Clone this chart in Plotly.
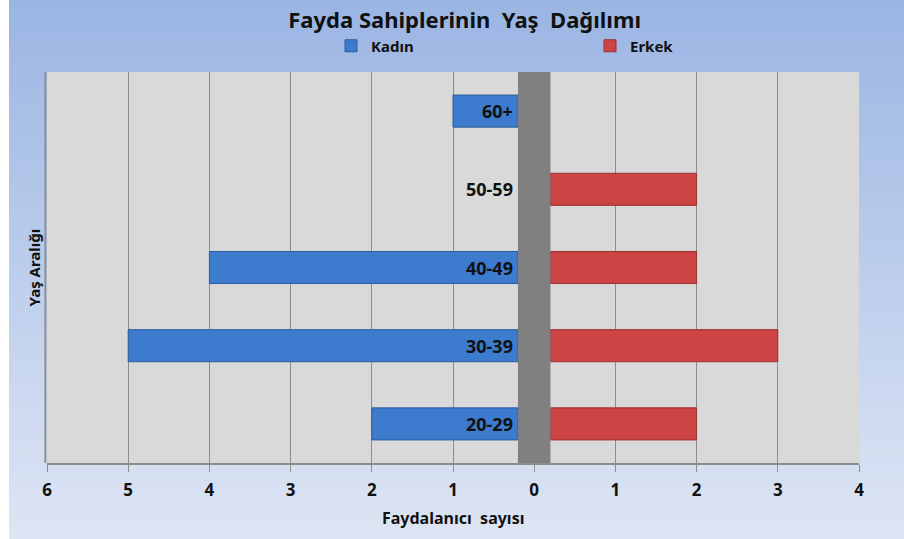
import plotly.graph_objects as go

# data
age_groups = ['20-29', '30-39', '40-49', '50-59', '60+']
kadin = [2, 5, 4, 0, 1]
erkek = [2, 3, 2, 2, 0]
tick_vals = [-6, -5, -4, -3, -2, -1, 0, 1, 2, 3, 4]
tick_text = [str(abs(v)) for v in tick_vals]

title = 'Fayda Sahiplerinin  Yaş  Dağılımı'
x_title = 'Faydalanıcı  sayısı'
y_title = 'Yaş Aralığı'

GAP = 0.2  # half width of the grey spine in the middle
FONT = 'Noto Sans'
INK = '#111111'

W, H = 904, 539
ML, MR, MT, MB = 47, 45, 72, 76
pw, ph = W - ML - MR, H - MT - MB


def px_x(p):
    return (p - ML) / pw


def px_y(p):
    return (H - MB - p) / ph


fig = go.Figure()

fig.add_trace(go.Bar(
    y=age_groups, x=[-(v - GAP) if v > 0 else None for v in kadin], base=-GAP,
    orientation='h', name='Kadın', width=0.41,
    marker=dict(color='#3c7bcd', line=dict(color='#2c5d9c', width=1)),
    hoverinfo='skip',
))
fig.add_trace(go.Bar(
    y=age_groups, x=[(v - GAP) if v > 0 else None for v in erkek], base=GAP,
    orientation='h', name='Erkek', width=0.41,
    marker=dict(color='#cc4444', line=dict(color='#9c3030', width=1)),
    hoverinfo='skip',
))

# background gradient, light blue -> pale blue
shapes = []
top, bot = (155, 181, 227), (221, 229, 244)
n = 60
y_top, y_bot = px_y(0), px_y(H)
for i in range(n):
    t = i / (n - 1)
    c = tuple(round(a + (b - a) * t) for a, b in zip(top, bot))
    y0 = y_top + (y_bot - y_top) * i / n
    y1 = y_top + (y_bot - y_top) * (i + 1) / n
    shapes.append(dict(type='rect', xref='paper', yref='paper',
                       x0=px_x(9), x1=px_x(W + 2), y0=y1 - 0.002, y1=y0 + 0.002,
                       fillcolor='rgb(%d,%d,%d)' % c, line=dict(width=0), layer='below'))
# plot area
shapes.append(dict(type='rect', xref='paper', yref='paper', x0=0, x1=1, y0=0, y1=1,
                   fillcolor='#d9d9d9', line=dict(width=0), layer='below'))
shapes.append(dict(type='line', xref='paper', yref='paper', x0=-0.002, x1=-0.002, y0=0, y1=1,
                   line=dict(color='#8f8f8f', width=2), layer='below'))
# grey spine in the middle
shapes.append(dict(type='rect', xref='x', yref='paper', x0=-GAP, x1=GAP, y0=0, y1=1,
                   fillcolor='#808080', line=dict(width=0), layer='above'))

annotations = []
for g in age_groups:
    annotations.append(dict(x=-GAP, y=g, xref='x', yref='y', text='<b>%s</b>' % g,
                            xanchor='right', yanchor='middle', xshift=-3, showarrow=False,
                            font=dict(family=FONT, size=18, color=INK)))
annotations.append(dict(x=0.5, y=px_y(518), xref='paper', yref='paper', text='<b>%s</b>' % x_title,
                        xanchor='center', yanchor='middle', showarrow=False,
                        font=dict(family=FONT, size=16, color=INK)))
annotations.append(dict(x=px_x(33), y=0.5, xref='paper', yref='paper', text='<b>%s</b>' % y_title,
                        xanchor='center', yanchor='middle', textangle=-90, showarrow=False,
                        font=dict(family=FONT, size=15, color=INK)))

fig.update_layout(
    width=W, height=H,
    margin=dict(l=ML, r=MR, t=MT, b=MB, autoexpand=False),
    paper_bgcolor='white', plot_bgcolor='#d9d9d9',
    barmode='overlay', bargap=0.59,
    title=dict(text='<b>%s</b>' % title, x=0.514, xanchor='center', y=1 - 20 / H, yanchor='middle',
               font=dict(family=FONT, size=22, color=INK)),
    legend=dict(orientation='h', x=px_x(331), xanchor='left', y=px_y(46), yanchor='middle',
                entrywidth=214, entrywidthmode='pixels', bgcolor='rgba(0,0,0,0)',
                font=dict(family=FONT, size=15, color=INK, weight='bold'),
                itemwidth=30, traceorder='normal'),
    xaxis=dict(range=[-6, 4], tickvals=tick_vals, ticktext=['<b>%s</b>' % t for t in tick_text],
               showgrid=True, gridcolor='#8c8c8c', gridwidth=1, zeroline=False,
               showline=True, linecolor='#8c8c8c', linewidth=2,
               ticks='outside', ticklen=7, tickcolor='#8c8c8c', ticklabelstandoff=4,
               tickfont=dict(family=FONT, size=17, color=INK)),
    yaxis=dict(showticklabels=False, showgrid=False, zeroline=False,
               range=[-0.5, 4.5], categoryorder='array', categoryarray=age_groups),
    shapes=shapes, annotations=annotations,
    font=dict(family=FONT),
)

fig.write_html('out.html', config={'displayModeBar': False},
               post_script="document.body.style.margin='0';")
